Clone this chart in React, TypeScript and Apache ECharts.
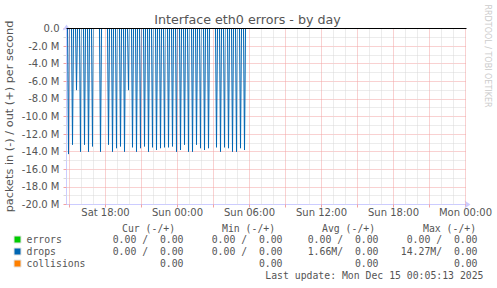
import { useEffect, useRef } from "react";
import * as echarts from "echarts";

// ---------- data ----------
const TITLE = "Interface eth0 errors - by day";
const Y_NAME = "packets in (-) / out (+) per second";
const WATERMARK = "RRDTOOL / TOBI OETIKER";

// x axis in minutes relative to Sun 00:00
const X_MIN = -555; // Sat 14:45
const X_MAX = 1445; // Mon 00:05
const X_LABEL_MINUTES = [-360, 0, 360, 720, 1080, 1440];
const X_LABELS = ["Sat 18:00", "Sun 00:00", "Sun 06:00", "Sun 12:00", "Sun 18:00", "Mon 00:00"];

const Y_MIN = -20e6;
const Y_MAX = 0;
const Y_STEP = 2e6;

// drops (in, negative side), millions of packets per second
const DROP_START = -550;
const DROP_END = 340;
const SPIKE_MINUTES = [
  -545, -525, -505, -485, -465, -445, -425, -385, -345, -325, -305, -285, -265, -245,
  -225, -205, -185, -165, -145, -125, -105, -85, -65, -45, -25, -5, 15, 35, 55, 75, 95,
  115, 135, 155, 195, 215, 235, 255, 275, 295, 315, 335,
];
const SPIKE_VALUES_M = [
  -14.27, -13.2, -7.0, -14.0, -13.2, -14.0, -13.4, -14.0, -13.2, -14.0, -13.6, -13.4, -14.0, -7.0,
  -13.5, -14.0, -13.6, -13.4, -14.0, -13.5, -13.8, -13.6, -13.5, -13.5, -13.4, -14.0, -13.8, -13.2, -14.0, -14.0, -13.2,
  -13.6, -13.8, -13.6, -13.5, -14.0, -13.5, -13.6, -14.0, -14.0, -13.6, -13.8,
];

// legend
const LEGEND_HEADERS = ["Cur (-/+)", "Min (-/+)", "Avg (-/+)", "Max (-/+)"];
const LEGEND_NAMES = ["errors", "drops", "collisions"];
const LEGEND_COLORS = ["#00cc00", "#0066b3", "#ff8000"];
const ERRORS_STATS = ["0.00 /  0.00", "0.00 /  0.00", "0.00 /  0.00", "0.00 /  0.00"];
const DROPS_STATS = ["0.00 /  0.00", "0.00 /  0.00", "1.66M/  0.00", "14.27M/  0.00"];
const COLLISIONS_STATS = ["0.00", "0.00", "0.00", "0.00"];
const LAST_UPDATE = "Last update: Mon Dec 15 00:05:13 2025";

// ---------- layout / style ----------
const TEXT = "#555";
const RED_GRID = "#f2a2a2";
const GRAY_GRID = "#d8d8d8";
const AXIS_COLOR = "#ccccff";
const MONO = '"DejaVu Sans Mono", monospace';
const SANS = '"DejaVu Sans", sans-serif';

function buildOption() {
  const drops: [number, number][] = [[DROP_START, 0]];
  SPIKE_MINUTES.forEach((t, i) => {
    drops.push([t - 5, 0], [t, SPIKE_VALUES_M[i] * 1e6], [t + 5, 0]);
  });
  drops.push([DROP_END, 0]);

  const vLines: any[] = [];
  const majorTicks: number[] = [];
  for (let m = -540; m <= 1440; m += 60) {
    const major = m % 180 === 0;
    if (major) majorTicks.push(m);
    vLines.push({
      xAxis: m,
      lineStyle: { color: major ? RED_GRID : GRAY_GRID, type: [1, 1], width: 1 },
    });
  }

  const statsRows = [ERRORS_STATS, DROPS_STATS, COLLISIONS_STATS];
  const rowY = [239.5, 251.5, 263.5];
  const headerLeft = [122, 222, 322, 423];
  const colRight = [183.5, 282.5, 378.5, 477.5];
  const legendFont = 9.8;

  const graphics: any[] = [
    {
      type: "text",
      x: 247.5,
      y: 19.6,
      style: { text: TITLE, fill: TEXT, fontSize: 12.7, fontFamily: SANS, align: "center", verticalAlign: "middle" },
    },
    {
      type: "text",
      x: 9,
      y: 116.5,
      rotation: Math.PI / 2,
      style: { text: Y_NAME, fill: TEXT, fontSize: 11.3, fontFamily: SANS, align: "center", verticalAlign: "middle" },
    },
    {
      type: "text",
      x: 487.5,
      y: 56,
      rotation: -Math.PI / 2,
      style: { text: WATERMARK, fill: "#cccccc", fontSize: 8, fontFamily: SANS, align: "center", verticalAlign: "middle" },
    },
  ];
  LEGEND_HEADERS.forEach((h, i) => {
    graphics.push({
      type: "text",
      x: headerLeft[i],
      y: 228,
      style: { text: h, fill: TEXT, fontSize: legendFont, fontFamily: MONO, align: "left", verticalAlign: "middle" },
    });
  });
  LEGEND_NAMES.forEach((name, r) => {
    graphics.push({
      type: "rect",
      shape: { x: 14, y: rowY[r] - 3.5, width: 7, height: 7 },
      style: { fill: LEGEND_COLORS[r], stroke: "#e4e4e4", lineWidth: 1 },
    });
    graphics.push({
      type: "text",
      x: 26.5,
      y: rowY[r],
      style: { text: name, fill: TEXT, fontSize: legendFont, fontFamily: MONO, align: "left", verticalAlign: "middle" },
    });
    statsRows[r].forEach((s, c) => {
      graphics.push({
        type: "text",
        x: colRight[c],
        y: rowY[r],
        style: { text: s, fill: TEXT, fontSize: legendFont, fontFamily: MONO, align: "right", verticalAlign: "middle" },
      });
    });
  });
  graphics.push({
    type: "text",
    x: 483.5,
    y: 275,
    style: { text: LAST_UPDATE, fill: TEXT, fontSize: legendFont, fontFamily: MONO, align: "right", verticalAlign: "middle" },
  });

  return {
    animation: false,
    backgroundColor: "#ffffff",
    textStyle: { fontFamily: SANS },
    grid: { left: 66.5, top: 28.5, width: 400, height: 176, containLabel: false },
    xAxis: {
      type: "value",
      min: X_MIN,
      max: X_MAX,
      axisLine: {
        show: true,
        onZero: false,
        lineStyle: { color: AXIS_COLOR, width: 1 },
        symbol: ["none", "arrow"],
        symbolSize: [6, 6],
        symbolOffset: [0, 4],
      },
      axisTick: { show: true, customValues: majorTicks, length: 3, lineStyle: { color: RED_GRID } },
      axisLabel: {
        customValues: X_LABEL_MINUTES,
        formatter: (v: number) => {
          const i = X_LABEL_MINUTES.indexOf(v);
          return i >= 0 ? X_LABELS[i] : "";
        },
        color: TEXT,
        fontSize: 10,
        fontFamily: SANS,
        margin: 3,
      },
      splitLine: { show: false },
    },
    yAxis: {
      type: "value",
      min: Y_MIN,
      max: Y_MAX,
      interval: Y_STEP,
      axisLine: {
        show: true,
        onZero: false,
        lineStyle: { color: AXIS_COLOR, width: 1 },
        symbol: ["none", "arrow"],
        symbolSize: [6, 6],
        symbolOffset: [0, 4],
      },
      axisTick: { show: true, length: 3, lineStyle: { color: RED_GRID } },
      minorTick: { show: true, splitNumber: 2, length: 3, lineStyle: { color: GRAY_GRID } },
      axisLabel: {
        formatter: (v: number) => (v === 0 ? "0.0" : (v / 1e6).toFixed(1) + " M"),
        color: TEXT,
        fontSize: 10,
        fontFamily: SANS,
        margin: 7,
      },
      splitLine: { show: true, lineStyle: { color: RED_GRID, type: [1, 1], width: 1 } },
      minorSplitLine: { show: true, lineStyle: { color: GRAY_GRID, type: [1, 1], width: 1 } },
    },
    series: [
      {
        type: "line",
        name: "grid",
        data: [
          [X_MIN, 0],
          [X_MAX, 0],
        ],
        showSymbol: false,
        symbol: "none",
        lineStyle: { opacity: 0 },
        silent: true,
        z: 1,
        markLine: {
          silent: true,
          symbol: ["none", "none"],
          label: { show: false },
          data: vLines,
        },
      },
      {
        type: "line",
        name: "drops",
        data: drops,
        showSymbol: false,
        symbol: "none",
        lineStyle: { color: LEGEND_COLORS[1], width: 1 },
        silent: true,
        z: 3,
      },
      {
        type: "line",
        name: "zero",
        data: [
          [X_MIN, 0],
          [X_MAX, 0],
        ],
        showSymbol: false,
        symbol: "none",
        lineStyle: { color: "#000000", width: 1 },
        silent: true,
        z: 4,
      },
    ],
    graphic: graphics,
  };
}

export default function App() {
  const ref = useRef<HTMLDivElement>(null);
  useEffect(() => {
    document.body.style.margin = "0";
    const chart = echarts.init(ref.current!, null, { renderer: "svg", width: 497, height: 288 });
    chart.setOption(buildOption() as any);
    return () => chart.dispose();
  }, []);
  return (
    <div
      ref={ref}
      style={{ position: "absolute", left: 0, top: 0, width: 497, height: 288, background: "#fff" }}
    />
  );
}
